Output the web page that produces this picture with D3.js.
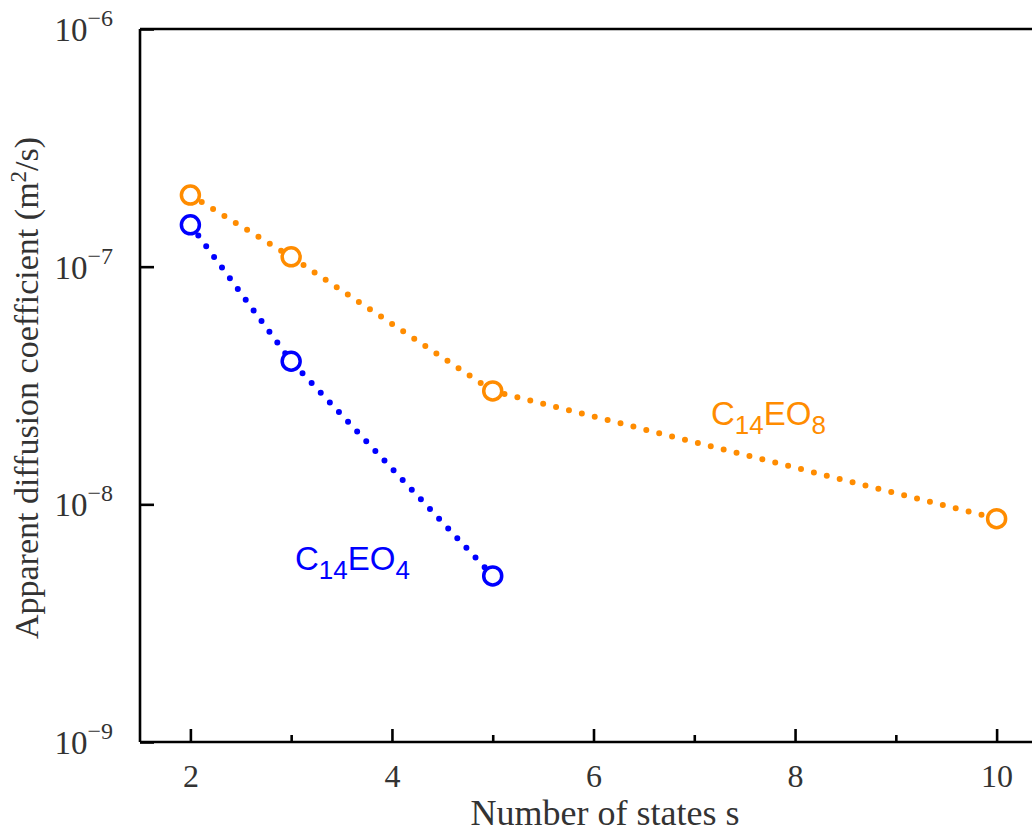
<!DOCTYPE html>
<html>
<head>
<meta charset="utf-8">
<script src="https://cdn.jsdelivr.net/npm/d3@7"></script>
<style>
  html, body { margin: 0; padding: 0; background: #fff; }
  svg { display: block; }
</style>
</head>
<body>
<svg id="chart" width="1032" height="833"></svg>
<script>
// Apparent diffusion coefficient vs number of states
const statesEO8 = [2, 3, 5, 10];
const diffEO8 = [2.0e-7, 1.1e-7, 3.0e-8, 8.7e-9];
const statesEO4 = [2, 3, 5];
const diffEO4 = [1.5e-7, 4.0e-8, 5.0e-9];
const xMajorTicks = [2, 4, 6, 8, 10];
const xMinorTicks = [3, 5, 7, 9];
const yTickExponents = [-6, -7, -8, -9];

const svg = d3.select("#chart");
const margin = { left: 140, top: 29, right: -15, bottom: 91 };
const W = 1032, H = 833;

const x = d3.scaleLinear().domain([1.5, 10.5]).range([margin.left, W - margin.right]);
const y = d3.scaleLog().domain([1e-9, 1e-6]).range([H - margin.bottom, margin.top]);

const serif = "'Liberation Serif', 'Times New Roman', serif";
const sans = "'Liberation Sans', Arial, sans-serif";
const orange = "#ff8c00";
const blue = "#0000ff";

// frame: left, top and bottom edges
const frame = svg.append("g").attr("fill", "none").attr("stroke", "#000").attr("stroke-width", 2.6);
frame.append("line").attr("x1", x(1.5)).attr("x2", x(1.5)).attr("y1", y(1e-6)).attr("y2", y(1e-9));
frame.append("line").attr("x1", x(1.5)).attr("x2", x(10.5)).attr("y1", y(1e-6)).attr("y2", y(1e-6));
frame.append("line").attr("x1", x(1.5)).attr("x2", x(10.5)).attr("y1", y(1e-9)).attr("y2", y(1e-9));

// x axis ticks (inward)
const xAxis = d3.axisBottom(x).tickValues(xMajorTicks).tickSize(-13).tickPadding(24).tickFormat(d3.format("d"));
const gx = svg.append("g").attr("transform", `translate(0,${y(1e-9)})`).call(xAxis);
gx.select(".domain").remove();
gx.selectAll(".tick line").attr("stroke", "#000").attr("stroke-width", 2.6);
gx.selectAll(".tick text").attr("font-family", serif).attr("font-size", 32).attr("fill", "#333").attr("dy", "0.66em");

const xMinor = d3.axisBottom(x).tickValues(xMinorTicks).tickSize(-7).tickFormat("");
const gxm = svg.append("g").attr("transform", `translate(0,${y(1e-9)})`).call(xMinor);
gxm.select(".domain").remove();
gxm.selectAll(".tick line").attr("stroke", "#000").attr("stroke-width", 2.6);

// y axis ticks (inward) with power-of-ten labels
const yAxis = d3.axisLeft(y).tickValues(yTickExponents.map(e => Math.pow(10, e))).tickSize(-14).tickFormat("");
const gy = svg.append("g").attr("transform", `translate(${x(1.5)},0)`).call(yAxis);
gy.select(".domain").remove();
gy.selectAll(".tick line").attr("stroke", "#000").attr("stroke-width", 2.6);

yTickExponents.forEach(e => {
  const t = svg.append("text")
    .attr("x", 113).attr("y", y(Math.pow(10, e)) + 12)
    .attr("text-anchor", "end")
    .attr("font-family", serif).attr("font-size", 33).attr("fill", "#333");
  t.append("tspan").text("10");
  t.append("tspan").attr("font-size", 24).attr("dy", -15).text("\u2212" + Math.abs(e));
});

// axis titles
svg.append("text")
  .attr("x", 605).attr("y", 825)
  .attr("text-anchor", "middle")
  .attr("font-family", serif).attr("font-size", 36).attr("fill", "#333")
  .text("Number of states s");

const yt = svg.append("text")
  .attr("transform", `translate(38,${388}) rotate(-90)`)
  .attr("text-anchor", "middle")
  .attr("font-family", serif).attr("font-size", 34).attr("fill", "#333");
yt.append("tspan").text("Apparent diffusion coefficient (m");
yt.append("tspan").attr("font-size", 23).attr("dy", -12).text("2");
yt.append("tspan").attr("dy", 12).text("/s)");

// series
const series = [
  { xs: statesEO8, ys: diffEO8, color: orange },
  { xs: statesEO4, ys: diffEO4, color: blue }
];
const line = d3.line().x(d => x(d[0])).y(d => y(d[1]));

series.forEach(s => {
  const pts = s.xs.map((v, i) => [v, s.ys[i]]);
  svg.append("path")
    .datum(pts)
    .attr("d", line)
    .attr("fill", "none")
    .attr("stroke", s.color)
    .attr("stroke-width", 6)
    .attr("stroke-linecap", "round")
    .attr("stroke-dasharray", "0 13.3");
  svg.append("g").selectAll("circle")
    .data(pts)
    .join("circle")
    .attr("cx", d => x(d[0])).attr("cy", d => y(d[1]))
    .attr("r", 9)
    .attr("fill", "#fff")
    .attr("stroke", s.color)
    .attr("stroke-width", 3.5);
});

// series labels
function seriesLabel(px, py, color, sub) {
  const t = svg.append("text")
    .attr("x", px).attr("y", py)
    .attr("font-family", sans).attr("font-size", 33).attr("fill", color);
  t.append("tspan").text("C");
  t.append("tspan").attr("font-size", 26).attr("dy", 9).text("14");
  t.append("tspan").attr("dy", -9).text("EO");
  t.append("tspan").attr("font-size", 26).attr("dy", 9).text(sub);
}
seriesLabel(711, 425, orange, "8");
seriesLabel(295, 570, blue, "4");
</script>
</body>
</html>
